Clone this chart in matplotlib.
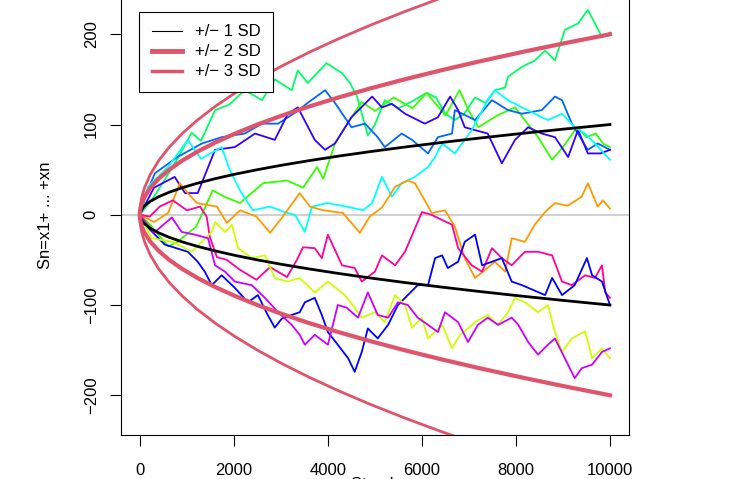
import matplotlib
matplotlib.use("Agg")
import matplotlib.pyplot as plt
from matplotlib.lines import Line2D

plt.rcParams["font.family"] = ["Liberation Sans", "DejaVu Sans"]

# values (step k, partial sum Sn)
steps_a = [0, 300, 600, 800, 1100, 1300, 1600, 1900, 2230, 2600, 2870, 3230, 3360, 3570, 3970, 4300, 4470,
           4620, 4850, 5000, 5210, 5500, 5800, 6100, 6300, 6500, 6700, 6900, 7130, 7350, 7550, 7770, 7830,
           8130, 8400, 8620, 8830, 9040, 9320, 9530, 9680, 9830, 10000]
walk_a = [0, 20, 45, 62, 91, 82, 116, 122, 138, 127, 150, 138, 160, 146, 168, 157, 146,
          131, 88, 100, 127, 118, 126, 135, 130, 112, 105, 112, 130, 124, 138, 141, 153,
          164, 171, 182, 171, 205, 212, 227, 212, 197, 202]

steps_b = [0, 200, 600, 800, 1200, 1550, 1800, 2130, 2620, 3130, 3470, 3770, 3900, 4150, 4500, 4720, 5000,
           5400, 5800, 6100, 6500, 6800, 7000, 7200, 7600, 7980, 8470, 8770, 9000, 9300, 9500, 9700, 9850, 10000]
walk_b = [0, -10, -35, -30, -13, 27, 20, 13, 35, 38, 30, 53, 40, 79, 108, 125, 115,
          130, 118, 135, 110, 138, 115, 97, 110, 119, 86, 61, 75, 97, 86, 90, 79, 75]

steps_c = [0, 150, 320, 800, 1320, 1740, 2230, 2600, 2940, 3300, 3570, 3940, 4150, 4500, 4790, 5060, 5210,
           5570, 5790, 6130, 6340, 6640, 6700, 7130, 7490, 7830, 8130, 8550, 8830, 8980, 9190, 9530, 9740, 10000]
walk_c = [0, 25, 46, 64, 79, 86, 90, 101, 101, 113, 124, 138, 124, 97, 101, 86, 75,
          90, 83, 68, 86, 90, 116, 105, 127, 116, 112, 116, 131, 127, 101, 72, 79, 72]

steps_d = [0, 300, 740, 960, 1230, 1600, 2020, 2450, 2870, 3150, 3360, 3720, 3940, 4150, 4500, 4940, 5150,
           5360, 5640, 6060, 6340, 6600, 6770, 6910, 7400, 7700, 7980, 8260, 8550, 8830, 9110, 9320, 9530,
           9800, 10000]
walk_d = [0, 30, 42, 24, 24, 72, 75, 90, 83, 112, 119, 83, 72, 79, 108, 131, 119,
          123, 112, 101, 108, 131, 116, 97, 90, 57, 83, 97, 90, 86, 64, 94, 68,
          68, 72]

steps_e = [0, 170, 600, 1020, 1300, 1740, 1910, 2130, 2400, 2770, 3130, 3300, 3510, 3660, 3980, 4400, 4750,
           4940, 5150, 5360, 5570, 5850, 6130, 6280, 6430, 6700, 7060, 7400, 7550, 7830, 8130, 8400, 8680,
           8980, 9250, 9470, 9680, 10000]
walk_e = [0, 31, 53, 83, 62, 75, 50, 27, 5, 9, 2, 0, -19, 9, 13, 9, 5,
          13, 42, 20, 35, 42, 53, 64, 79, 68, 94, 127, 138, 127, 119, 112, 105,
          112, 97, 90, 79, 61]

steps_f = [0, 300, 600, 850, 1020, 1210, 1640, 1850, 2130, 2480, 2770, 3040, 3400, 3620, 3900, 4320, 4680,
           4890, 5150, 5430, 5700, 5850, 6060, 6210, 6490, 6700, 6910, 7130, 7300, 7550, 7770, 7910, 8190,
           8400, 8620, 8830, 9100, 9400, 9530, 9740, 9850, 10000]
walk_f = [0, -8, 2, 35, 24, 13, 9, -9, 5, -2, -20, -2, 24, 9, 5, 2, -20,
          -2, 8, 31, 38, 35, 16, 2, 5, -13, -48, -70, -63, -52, -63, -26, -30,
          -11, 3, 13, 10, 20, 35, 9, 16, 7]

steps_g = [0, 210, 420, 700, 1000, 1280, 1420, 1490, 1640, 1850, 2130, 2480, 2770, 3130, 3340, 3470, 3720,
           3870, 4000, 4300, 4570, 4720, 5000, 5150, 5430, 5640, 6000, 6200, 6640, 6770, 7060, 7280, 7490,
           7700, 7910, 8190, 8470, 8770, 8980, 9190, 9470, 9680, 9830, 9900, 10000]
walk_g = [0, -2, 9, 16, 5, 9, -2, -25, -47, -50, -61, -72, -58, -69, -50, -36, -37,
          -48, -22, -56, -59, -74, -63, -45, -56, -41, 3, 0, -11, -37, -56, -63, -37,
          -48, -56, -41, -41, -45, -74, -78, -67, -70, -56, -86, -92]

steps_h = [0, 110, 320, 530, 1020, 1230, 1380, 1530, 1740, 2020, 2300, 2510, 2720, 2870, 3020, 3230, 3400,
           3510, 3720, 3870, 4000, 4210, 4430, 4570, 4720, 4850, 5060, 5280, 5490, 5700, 5910, 6130, 6280,
           6430, 6550, 6770, 6910, 7130, 7280, 7700, 7910, 8130, 8620, 8770, 8980, 9250, 9510, 9620, 9830,
           10000]
walk_h = [0, -11, -22, -33, -41, -52, -63, -78, -67, -81, -97, -89, -111, -125, -115, -111, -108,
          -97, -92, -111, -130, -144, -159, -174, -152, -126, -137, -122, -100, -89, -78, -78, -48,
          -45, -59, -52, -30, -22, -56, -48, -74, -78, -89, -70, -89, -78, -48, -67, -74,
          -100]

steps_i = [0, 250, 700, 1100, 1530, 1600, 1810, 1960, 2090, 2380, 2660, 2870, 3150, 3400, 3720, 4000, 4360,
           4570, 4720, 5000, 5210, 5430, 5640, 5790, 6000, 6130, 6430, 6640, 6810, 6910, 7130, 7400, 7620,
           7830, 7980, 8190, 8470, 8680, 8830, 8980, 9190, 9470, 9620, 9830, 10000]
walk_i = [0, -26, -30, -41, -19, -8, -19, -11, -37, -48, -45, -70, -74, -70, -86, -74, -89,
          -103, -114, -108, -119, -89, -100, -125, -114, -137, -122, -148, -133, -129, -119, -111, -122,
          -108, -92, -97, -108, -100, -130, -152, -137, -129, -159, -148, -159]

steps_j = [0, 300, 680, 890, 1170, 1450, 1600, 1810, 2020, 2380, 2660, 2940, 3230, 3400, 3510, 3720, 4000,
           4210, 4400, 4640, 4850, 5060, 5280, 5490, 5700, 5910, 6130, 6340, 6490, 6770, 6980, 7190, 7400,
           7620, 7910, 8050, 8260, 8470, 8680, 8830, 9040, 9250, 9400, 9620, 9830, 10000]
walk_j = [0, -20, -3, -19, -22, -26, -56, -63, -74, -78, -92, -108, -122, -133, -144, -133, -144,
          -100, -103, -114, -86, -111, -114, -97, -100, -114, -122, -130, -108, -119, -141, -122, -114,
          -122, -114, -122, -141, -155, -144, -137, -159, -181, -170, -166, -152, -148]

walks = [(steps_a, walk_a, "#00FF66"), (steps_b, walk_b, "#33FF00"), (steps_c, walk_c, "#0066FF"),
         (steps_d, walk_d, "#3300FF"), (steps_e, walk_e, "#00FFFF"), (steps_f, walk_f, "#FF9900"),
         (steps_g, walk_g, "#FF0099"), (steps_h, walk_h, "#0000FF"), (steps_i, walk_i, "#CCFF00"),
         (steps_j, walk_j, "#CC00FF")]

# one standard deviation band, sd(Sn) at step n
sd_steps = [0, 1, 4, 9, 16, 36, 64, 100, 225, 400, 625, 900, 1225, 1600, 2025, 2500, 3025, 3600,
            4225, 4900, 5625, 6400, 7225, 8100, 9025, 10000]
sd_one = [0, 1, 2, 3, 4, 6, 8, 10, 15, 20, 25, 30, 35, 40, 45, 50, 55, 60,
          65, 70, 75, 80, 85, 90, 95, 100]

red = "#DF536B"

fig = plt.figure(figsize=(7.36, 4.79), dpi=100)
ax = fig.add_axes([0.1645, 0.0919, 0.6898, 0.9194])

ax.axhline(0, color="#C8C8C8", lw=1.2, zorder=1)
for s, w, c in walks:
    ax.plot(s, w, color=c, lw=1.3, zorder=2)

ax.plot(sd_steps, sd_one, color="black", lw=2, zorder=3)
ax.plot(sd_steps, [-v for v in sd_one], color="black", lw=2, zorder=3)
ax.plot(sd_steps, [2 * v for v in sd_one], color=red, lw=3, zorder=3)
ax.plot(sd_steps, [-2 * v for v in sd_one], color=red, lw=3, zorder=3)
ax.plot(sd_steps, [3 * v for v in sd_one], color=red, lw=2, zorder=3)
ax.plot(sd_steps, [-3 * v for v in sd_one], color=red, lw=2, zorder=3)

ax.set_xlim(-400, 10400)
ax.set_ylim(-244, 244)
ax.set_xticks([0, 2000, 4000, 6000, 8000, 10000])
ax.set_yticks([-200, -100, 0, 100, 200])
ax.tick_params(direction="out", length=8, width=0.8, labelsize=12, pad=8)
ax.tick_params(axis="x", pad=12)
for lab in ax.get_yticklabels():
    lab.set_rotation(90)
    lab.set_va("center")
for sp in ax.spines.values():
    sp.set_linewidth(0.8)

fig.text(45 / 736, 1 - 215 / 479, "Sn=x1+ ... +xn", rotation=90, ha="center", va="center", fontsize=12)
fig.text(375 / 736, 0.004, "Step k", ha="center", va="top", fontsize=12)

handles = [Line2D([], [], color="black", lw=0.8),
           Line2D([], [], color=red, lw=3.5),
           Line2D([], [], color=red, lw=2.5)]
leg = ax.legend(handles, ["+/\u2212 1 SD", "+/\u2212 2 SD", "+/\u2212 3 SD"], loc="upper left",
                bbox_to_anchor=(139 / 736, 1 - 12 / 479), bbox_transform=fig.transFigure,
                borderaxespad=0, fancybox=False, framealpha=1, edgecolor="black", fontsize=12,
                handlelength=1.8, handletextpad=0.8, borderpad=0.75, labelspacing=0.3)
leg.get_frame().set_linewidth(0.8)

fig.savefig("out.png", dpi=100)
